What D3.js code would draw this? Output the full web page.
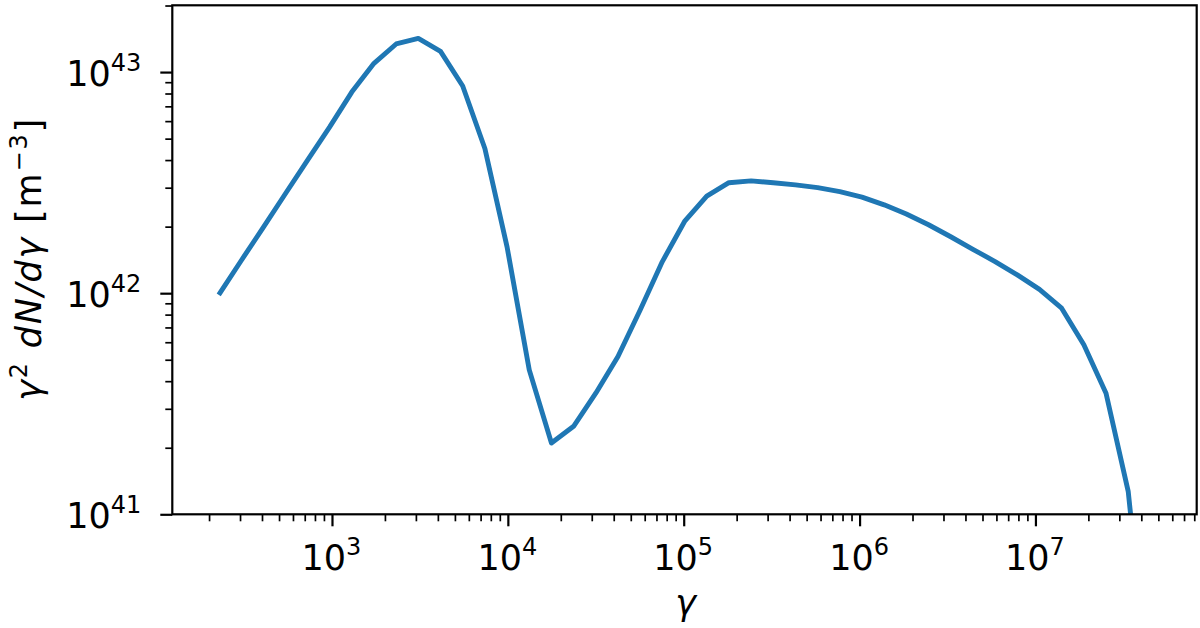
<!DOCTYPE html>
<html>
<head>
<meta charset="utf-8">
<script src="https://cdn.jsdelivr.net/npm/d3@7"></script>
<style>
  html, body { margin: 0; padding: 0; background: #fff; }
  svg { display: block; }
</style>
</head>
<body>
<div id="chart"></div>
<script>
// Lorentz factor grid and spectrum gamma^2 dN/dgamma [m^-3]
const gamma = [
  227, 303, 406, 542, 725, 969, 1296, 1733, 2317, 3097,
  4141, 5537, 7403, 9897, 13235, 17697, 23655, 31630, 42290, 56550,
  75610, 1.011e5, 1.352e5, 1.807e5, 2.417e5, 3.231e5, 4.319e5, 5.776e5, 7.721e5, 1.032e6,
  1.380e6, 1.845e6, 2.467e6, 3.299e6, 4.411e6, 5.897e6, 7.884e6, 1.054e7, 1.409e7, 1.885e7,
  2.520e7, 3.369e7, 4.505e7
];
const spectrum = [
  9.82e41, 1.395e42, 1.98e42, 2.81e42, 3.99e42, 5.64e42, 8.12e42, 1.095e43, 1.34e43, 1.42e43,
  1.24e43, 8.65e42, 4.51e42, 1.62e42, 4.50e41, 2.10e41, 2.50e41, 3.53e41, 5.17e41, 8.40e41,
  1.39e42, 2.11e42, 2.75e42, 3.16e42, 3.22e42, 3.16e42, 3.09e42, 3.00e42, 2.88e42, 2.72e42,
  2.51e42, 2.28e42, 2.04e42, 1.80e42, 1.58e42, 1.39e42, 1.21e42, 1.04e42, 8.55e41, 5.84e41,
  3.53e41, 1.27e41, 1.4e40
];

const xTickValues = [1e3, 1e4, 1e5, 1e6, 1e7];
const xTickExponents = ["3", "4", "5", "6", "7"];
const yTickValues = [1e41, 1e42, 1e43];
const yTickExponents = ["41", "42", "43"];

const FONT = "DejaVu Sans";
const width = 1200, height = 628;
const margin = { top: 5.3, right: 3.3, bottom: 113.7, left: 172.3 };
const innerW = width - margin.left - margin.right;
const innerH = height - margin.top - margin.bottom;

const x = d3.scaleLog().domain([Math.pow(10, 2.092), Math.pow(10, 7.917)]).range([0, innerW]);
const y = d3.scaleLog().domain([1e41, Math.pow(10, 43.302)]).range([innerH, 0]);

function minorTicks(scale) {
  const [lo, hi] = scale.domain();
  const out = [];
  for (let e = Math.floor(Math.log10(lo)); e <= Math.ceil(Math.log10(hi)); e++) {
    for (let m = 2; m <= 9; m++) {
      const v = m * Math.pow(10, e);
      if (v >= lo && v <= hi) out.push(v);
    }
  }
  return out;
}

const svg = d3.select("#chart").append("svg")
  .attr("width", width)
  .attr("height", height)
  .attr("font-family", FONT);

const g = svg.append("g")
  .attr("transform", `translate(${margin.left},${margin.top})`);

g.append("clipPath").attr("id", "plot-clip")
  .append("rect").attr("width", innerW).attr("height", innerH);

// the curve
const line = d3.line()
  .x(d => x(d[0]))
  .y(d => y(d[1]));

g.append("path")
  .datum(gamma.map((v, i) => [v, spectrum[i]]))
  .attr("clip-path", "url(#plot-clip)")
  .attr("fill", "none")
  .attr("stroke", "#1f77b4")
  .attr("stroke-width", 4.9)
  .attr("stroke-linejoin", "round")
  .attr("d", line);

// minor ticks
g.append("g")
  .attr("transform", `translate(0,${innerH})`)
  .call(d3.axisBottom(x).tickValues(minorTicks(x)).tickSize(7).tickFormat(""))
  .call(a => a.select(".domain").remove())
  .call(a => a.selectAll(".tick line").attr("stroke", "#000").attr("stroke-width", 1.7));

g.append("g")
  .call(d3.axisLeft(y).tickValues(minorTicks(y)).tickSize(7).tickFormat(""))
  .call(a => a.select(".domain").remove())
  .call(a => a.selectAll(".tick line").attr("stroke", "#000").attr("stroke-width", 1.7));

// major ticks with 10^n labels
const xAxis = g.append("g")
  .attr("transform", `translate(0,${innerH})`)
  .call(d3.axisBottom(x).tickValues(xTickValues).tickSize(12).tickFormat(""))
  .attr("font-family", FONT);
xAxis.select(".domain").remove();
xAxis.selectAll(".tick line").attr("stroke", "#000").attr("stroke-width", 2.2);
xAxis.selectAll(".tick text")
  .attr("y", 0).attr("dy", null)
  .attr("transform", "translate(-1,55.5)")
  .attr("fill", "#000")
  .attr("font-size", 35)
  .attr("text-anchor", "middle")
  .each(function (d, i) {
    const t = d3.select(this);
    t.append("tspan").text("10");
    t.append("tspan").attr("dy", -14.5).attr("font-size", 24).text(xTickExponents[i]);
  });

const yAxis = g.append("g")
  .call(d3.axisLeft(y).tickValues(yTickValues).tickSize(12).tickFormat(""))
  .attr("font-family", FONT);
yAxis.select(".domain").remove();
yAxis.selectAll(".tick line").attr("stroke", "#000").attr("stroke-width", 2.2);
yAxis.selectAll(".tick text")
  .attr("x", 0).attr("dy", null)
  .attr("transform", "translate(-31,13)")
  .attr("fill", "#000")
  .attr("font-size", 35)
  .attr("text-anchor", "end")
  .each(function (d, i) {
    const t = d3.select(this);
    t.append("tspan").text("10");
    t.append("tspan").attr("dy", -14.5).attr("font-size", 24).text(yTickExponents[i]);
  });

// frame
g.append("rect")
  .attr("width", innerW)
  .attr("height", innerH)
  .attr("fill", "none")
  .attr("stroke", "#000")
  .attr("stroke-width", 2.2);

// axis labels
svg.append("text")
  .attr("x", margin.left + innerW / 2 + 1)
  .attr("y", 614.5)
  .attr("text-anchor", "middle")
  .attr("font-size", 35)
  .attr("font-style", "italic")
  .text("γ");

const yLabel = svg.append("text")
  .attr("transform", `translate(41,${margin.top + innerH / 2}) rotate(-90)`)
  .attr("text-anchor", "middle")
  .attr("font-size", 35)
  .attr("textLength", 282)
  .attr("lengthAdjust", "spacing");
yLabel.append("tspan").attr("font-style", "italic").text("γ");
yLabel.append("tspan").attr("dy", -14.5).attr("font-size", 24).text("2");
yLabel.append("tspan").attr("dy", 14.5).attr("font-style", "italic").text(" dN/dγ");
yLabel.append("tspan").text(" [m");
yLabel.append("tspan").attr("dy", -14.5).attr("font-size", 24).text("−3");
yLabel.append("tspan").attr("dy", 14.5).text("]");
</script>
</body>
</html>
